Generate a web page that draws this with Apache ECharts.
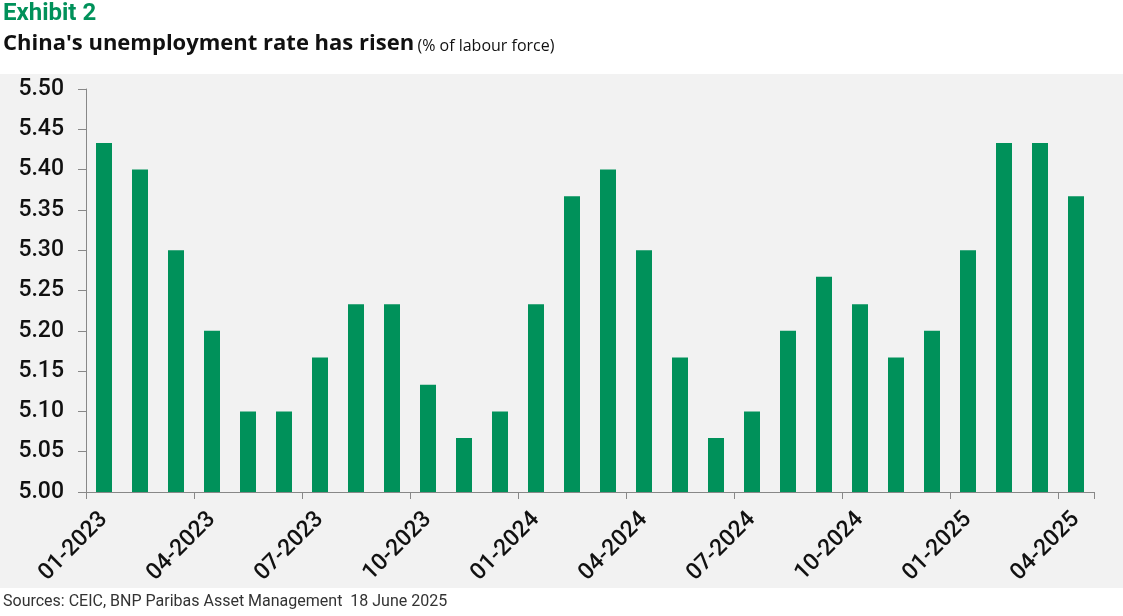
<!DOCTYPE html>
<html>
<head>
<meta charset="utf-8">
<script src="https://cdn.jsdelivr.net/npm/echarts@6/dist/echarts.min.js"></script>
<style>
    html, body { margin: 0; padding: 0; background: #fff; }
    #main { width: 1123px; height: 616px; }
</style>
</head>
<body>
<div id="main"></div>
<script>
    // monthly categories 01-2023 .. 04-2025
    var months = ['01-2023','02-2023','03-2023','04-2023','05-2023','06-2023','07-2023','08-2023','09-2023','10-2023','11-2023','12-2023',
                  '01-2024','02-2024','03-2024','04-2024','05-2024','06-2024','07-2024','08-2024','09-2024','10-2024','11-2024','12-2024',
                  '01-2025','02-2025','03-2025','04-2025'];
    // unemployment rate, % of labour force
    var rate = [5.433, 5.40, 5.30, 5.20, 5.10, 5.10, 5.167, 5.233, 5.233, 5.133, 5.067, 5.10,
                5.233, 5.367, 5.40, 5.30, 5.167, 5.067, 5.10, 5.20, 5.267, 5.233, 5.167, 5.20,
                5.30, 5.433, 5.433, 5.367];
    var yMin = 5.00, yMax = 5.50, yStep = 0.05;

    var green = '#00915a';
    var font = 'Roboto, "Noto Sans", sans-serif';
    var wide = '"Open Sans", Roboto, sans-serif';

    var myChart = echarts.init(document.getElementById('main'));
    var option = {
        backgroundColor: '#ffffff',
        animation: false,
        textStyle: { fontFamily: font },
        graphic: [
            // grey panel behind the plot
            { type: 'rect', z: -10, shape: { x: 0, y: 74, width: 1123, height: 514 }, style: { fill: '#f2f2f2' } },
            { type: 'text', left: 3, top: 2, style: { text: 'Exhibit 2', fill: green, font: 'bold 24px ' + font } },
            { type: 'text', left: 3, top: 33, style: {
                text: '{a|China\'s unemployment rate has risen} {b|(% of labour force)}',
                rich: {
                    a: { fontFamily: wide, fontWeight: 'bold', fontSize: 22, fill: '#111' },
                    b: { fontFamily: wide, fontSize: 16, fill: '#111', padding: [5, 0, 0, 0] }
                }
            } },
            { type: 'text', left: 3, top: 594, style: { text: 'Sources: CEIC, BNP Paribas Asset Management  18 June 2025', fill: '#333', font: '16px ' + font } }
        ],
        grid: { left: 86, right: 29, top: 89, bottom: 124 },
        xAxis: {
            type: 'category',
            data: months,
            boundaryGap: true,
            axisLine: { lineStyle: { color: '#888', width: 1 } },
            axisTick: { show: true, interval: 2, length: 7, lineStyle: { color: '#888' } },
            axisLabel: { interval: 2, rotate: 45, margin: 24, fontSize: 23, fontWeight: 500, color: '#111', fontFamily: font }
        },
        yAxis: {
            type: 'value',
            min: yMin, max: yMax, interval: yStep,
            splitLine: { show: false },
            axisLine: { show: true, lineStyle: { color: '#888', width: 1 } },
            axisTick: { show: true, length: 8, lineStyle: { color: '#888' } },
            axisLabel: { margin: 22, fontSize: 23, fontWeight: 500, color: '#111', fontFamily: font,
                formatter: function (v) { return v.toFixed(2); } }
        },
        series: [{
            type: 'bar',
            data: rate,
            barWidth: 16,
            itemStyle: { color: green }
        }]
    };
    myChart.setOption(option);
</script>
</body>
</html>
